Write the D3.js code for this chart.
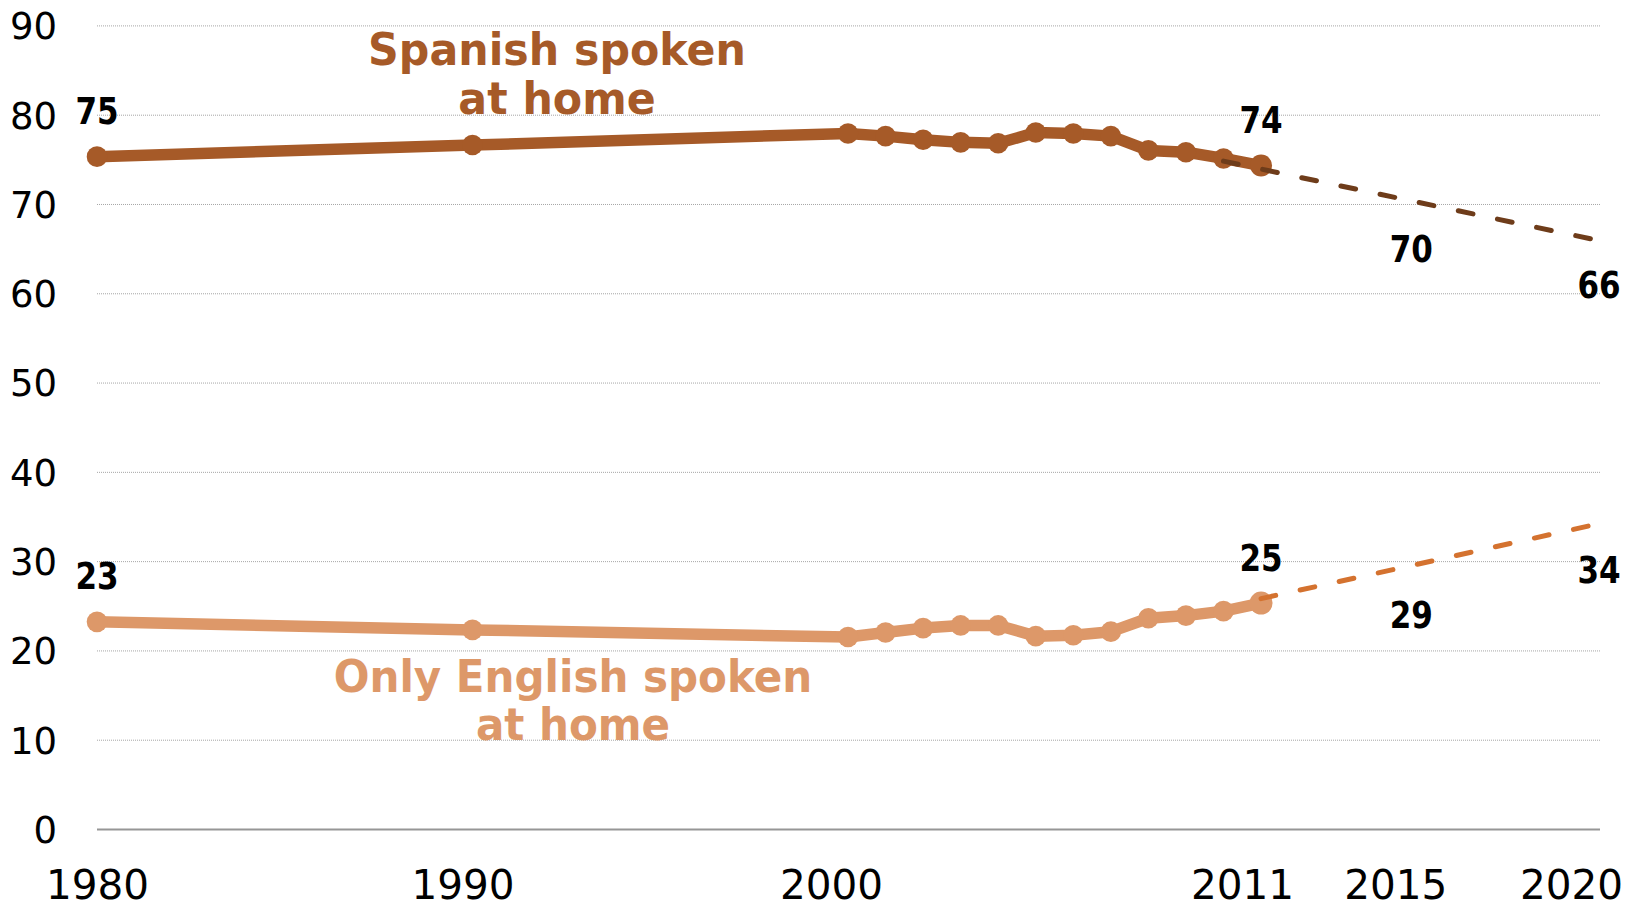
<!DOCTYPE html>
<html>
<head>
<meta charset="utf-8">
<script src="https://cdn.jsdelivr.net/npm/d3@7"></script>
<style>
  html, body { margin: 0; padding: 0; background: #fff; }
  svg { display: block; font-family: "DejaVu Sans", Verdana, sans-serif; }
  .grid line { stroke: #a6a6a6; stroke-width: 1; stroke-dasharray: 1,1; }
  .grid .zero line { stroke: #969696; stroke-width: 2; stroke-dasharray: none; }
</style>
</head>
<body>
<svg width="1639" height="906"></svg>
<script>
// observed years
const years = [1980, 1990, 2000, 2001, 2002, 2003, 2004, 2005, 2006, 2007, 2008, 2009, 2010, 2011];
const spanish = [75.3, 76.6, 77.9, 77.6, 77.2, 76.9, 76.8, 78.0, 77.9, 77.6, 76.0, 75.8, 75.1, 74.3];
const english = [23.2, 22.3, 21.5, 22.0, 22.5, 22.8, 22.8, 21.6, 21.7, 22.1, 23.6, 23.9, 24.4, 25.3];

// projections (dashed)
const spanishProjYears = [2010, 2015, 2020];
const spanishProj = [74.8, 70.35, 65.9];
const englishProjYears = [2011, 2015, 2020];
const englishProj = [25.8, 29.5, 34.2];

// value labels
const labelYears = [1980, 2011, 2015, 2020];
const spanishLabels = [75, 74, 70, 66];
const englishLabels = [23, 25, 29, 34];

// ticks
const yTicks = [0, 10, 20, 30, 40, 50, 60, 70, 80, 90];
const xTicks = [1980, 1990, 2000, 2011, 2015, 2020];

const spanishColor = "#a65a28";
const spanishDash = "#6e3c1a";
const englishColor = "#dd9869";
const englishDash = "#d4722f";

const plotLeft = 97, plotRight = 1599, plotTop = 25.4, plotBottom = 829;
// the year labels under the axis sit a little left of their points
const tickNudge = { 1980: 0, 1990: -10, 2000: -17, 2011: -19, 2015: -16, 2020: -28 };

const x = d3.scaleLinear().domain([1980, 2020]).range([plotLeft, plotRight]);
const y = d3.scaleLinear().domain([0, 90]).range([plotBottom, plotTop]);

const svg = d3.select("svg");

// gridlines + y labels
const yAxis = d3.axisLeft(y).tickValues(yTicks).tickSize(-(plotRight - plotLeft + 1)).tickPadding(40);
const gy = svg.append("g")
  .attr("class", "grid")
  .attr("transform", `translate(${plotLeft}, 0)`)
  .call(yAxis);
gy.select(".domain").remove();
gy.selectAll(".tick").classed("zero", d => d === 0);
gy.selectAll("text")
  .attr("font-size", 37)
  .attr("font-family", "DejaVu Sans")
  .attr("fill", "#000")
  .attr("dy", "0.36em");

// x labels
const xAxis = d3.axisBottom(x).tickValues(xTicks).tickSize(0).tickFormat(d3.format("d"));
const gx = svg.append("g")
  .attr("transform", `translate(0, ${plotBottom})`)
  .call(xAxis);
gx.select(".domain").remove();
gx.selectAll("text")
  .attr("font-size", 40.5)
  .attr("font-family", "DejaVu Sans")
  .attr("fill", "#000")
  .attr("x", d => tickNudge[d])
  .attr("y", 70)
  .attr("dy", 0);

const line = d3.line().x(d => x(d[0])).y(d => y(d[1]));

function drawSeries(vals, color, projYears, proj, dashColor, lastR) {
  const pts = years.map((yr, i) => [yr, vals[i]]);
  svg.append("path")
    .datum(pts)
    .attr("d", line)
    .attr("fill", "none")
    .attr("stroke", color)
    .attr("stroke-width", 11.5)
    .attr("stroke-linejoin", "round");
  svg.append("g")
    .selectAll("circle")
    .data(pts)
    .enter()
    .append("circle")
    .attr("cx", d => x(d[0]))
    .attr("cy", d => y(d[1]))
    .attr("r", (d, i) => i === pts.length - 1 ? lastR : 10.3)
    .attr("fill", color);
  svg.append("path")
    .datum(projYears.map((yr, i) => [yr, proj[i]]))
    .attr("d", line)
    .attr("fill", "none")
    .attr("stroke", dashColor)
    .attr("stroke-width", 5)
    .attr("stroke-linecap", "round")
    .attr("stroke-dasharray", "15,25");
}

drawSeries(spanish, spanishColor, spanishProjYears, spanishProj, spanishDash, 11);
drawSeries(english, englishColor, englishProjYears, englishProj, englishDash, 11.5);

// data value labels: observed above, projected below
function drawLabels(vals) {
  svg.append("g")
    .selectAll("text")
    .data(vals)
    .enter()
    .append("text")
    .attr("transform", (d, i) => {
      const ty = y(d) + (labelYears[i] <= 2011 ? -35 : 58);
      return `translate(${x(labelYears[i])}, ${ty}) scale(0.85, 1)`;
    })
    .attr("text-anchor", "middle")
    .attr("font-size", 36.5)
    .attr("font-weight", "bold")
    .attr("fill", "#000")
    .text(d => d);
}
drawLabels(spanishLabels);
drawLabels(englishLabels);

// series names
function seriesName(lines, cx, baseY, color, squeeze) {
  const t = svg.append("text")
    .attr("transform", `translate(${cx}, ${baseY}) scale(${squeeze}, 1)`)
    .attr("text-anchor", "middle")
    .attr("font-size", 44.5)
    .attr("font-weight", "bold")
    .attr("fill", color);
  lines.forEach((s, i) => {
    t.append("tspan").attr("x", 0).attr("y", i * 49).text(s);
  });
}
seriesName(["Spanish spoken", "at home"], 557, 65, spanishColor, 0.96);
seriesName(["Only English spoken", "at home"], 573, 691.5, englishColor, 0.945);
</script>
</body>
</html>
